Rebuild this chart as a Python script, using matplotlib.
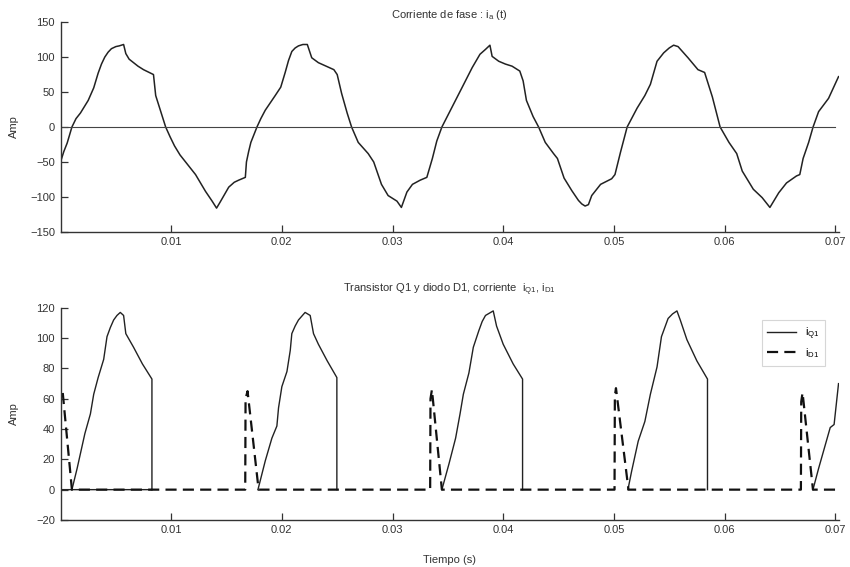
import numpy as np
import matplotlib
matplotlib.use("Agg")
import matplotlib.pyplot as plt

plt.rcParams['font.family'] = ['Liberation Sans', 'DejaVu Sans']
plt.rcParams['mathtext.fontset'] = 'custom'
plt.rcParams['mathtext.rm'] = 'Liberation Sans'
plt.rcParams['mathtext.it'] = 'Liberation Sans'

# ---- Phase current ia(t) ----
ia_t = [0.0000, 0.0003, 0.0006, 0.00103, 0.0014, 0.0018, 0.0025, 0.0030, 0.0034, 0.0037,
        0.0040, 0.0043, 0.0046, 0.0050, 0.0053, 0.0057, 0.0059, 0.0062, 0.0066, 0.0070,
        0.0075, 0.0084, 0.0086, 0.0089, 0.0091, 0.0095, 0.0099, 0.0103, 0.0108, 0.0113,
        0.0122, 0.0131, 0.0137, 0.0141, 0.0144, 0.0148, 0.0152, 0.0157, 0.0161, 0.0167,
        0.0168, 0.0170, 0.0172, 0.01775, 0.0181, 0.0185, 0.0194, 0.0199, 0.0203, 0.0206,
        0.0209, 0.0212, 0.0215, 0.0219, 0.0223, 0.0227, 0.0233, 0.0240, 0.0247, 0.0250,
        0.0254, 0.0259, 0.0263, 0.0269, 0.0278, 0.0283, 0.0290, 0.0296, 0.0304, 0.0308,
        0.0313, 0.0318, 0.0325, 0.0331, 0.0336, 0.0340, 0.03446, 0.0354, 0.0363, 0.0372,
        0.0379, 0.0384, 0.0388, 0.0390, 0.0396, 0.0402, 0.0408, 0.0415, 0.0418, 0.0421,
        0.0427, 0.0432, 0.0438, 0.04455, 0.0449, 0.0455, 0.0462, 0.0468, 0.0471, 0.0474,
        0.0477, 0.0480, 0.0488, 0.0498, 0.0501, 0.0506, 0.0512, 0.0521, 0.0528, 0.0533,
        0.0539, 0.0545, 0.0550, 0.0554, 0.0558, 0.0567, 0.0576, 0.0582, 0.0589, 0.0596,
        0.0604, 0.0611, 0.0616, 0.0626, 0.0634, 0.0641, 0.0649, 0.0656, 0.0665, 0.0668,
        0.0671, 0.0676, 0.0680, 0.0685, 0.0694, 0.0703]
ia_v = [-50, -35, -23, 0, 12, 20, 38, 56, 77, 90,
        100, 107, 112, 115, 116, 118, 105, 97, 92, 87,
        82, 75, 45, 30, 20, 0, -14, -27, -40, -50,
        -68, -92, -106, -116, -108, -97, -86, -79, -76, -72,
        -50, -35, -22, 0, 12, 24, 45, 57, 78, 95,
        108, 113, 116, 118, 118, 99, 92, 87, 82, 75,
        48, 20, 0, -22, -38, -50, -82, -98, -106, -115,
        -93, -82, -76, -72, -45, -20, 0, 29, 57, 85,
        104, 111, 117, 101, 94, 90, 87, 80, 66, 38,
        15, 0, -22, -38, -45, -73, -91, -105, -110, -113,
        -111, -98, -82, -74, -68, -36, 0, 27, 45, 61,
        94, 106, 113, 117, 115, 99, 82, 78, 43, 0,
        -22, -38, -63, -89, -101, -115, -94, -80, -70, -68,
        -45, -22, 0, 22, 41, 72]

# ---- Transistor Q1 current (cycles separated by NaN) ----
iq_t = [0.0, 0.00826, np.nan,
        0.00103, 0.0015, 0.0022, 0.0027, 0.0030, 0.0034, 0.0039, 0.0042, 0.0045, 0.0048,
        0.0051, 0.0054, 0.0057, 0.0059, 0.0066, 0.0074, 0.00826, 0.00826, np.nan,
        0.01784, 0.0185, 0.0191, 0.01955, 0.0197, 0.0200, 0.02046, 0.02076, 0.0209, 0.0212,
        0.0215, 0.0221, 0.02256, 0.02286, 0.0233, 0.0241, 0.02497, 0.02497, np.nan,
        0.03446, 0.0351, 0.0357, 0.0361, 0.0364, 0.0369, 0.0373, 0.0378, 0.0381, 0.0384,
        0.0391, 0.0394, 0.0400, 0.0409, 0.04175, 0.04175, np.nan,
        0.05127, 0.0516, 0.0522, 0.0528, 0.0533, 0.0539, 0.0543, 0.0549, 0.0553, 0.0557,
        0.0560, 0.0566, 0.0575, 0.05846, 0.05846, np.nan,
        0.06799, 0.0685, 0.0692, 0.06955, 0.0699, 0.0703]
iq_v = [0, 0, np.nan,
        0, 14, 37, 50, 63, 74, 86, 101, 107, 112,
        115, 117, 115, 103, 94, 83, 73, 0, np.nan,
        0, 19, 34, 42, 54, 68, 78, 92, 103, 108,
        112, 117, 115, 103, 96, 85, 74, 0, np.nan,
        0, 17, 34, 50, 63, 77, 94, 105, 111, 115,
        118, 108, 96, 83, 73, 0, np.nan,
        0, 12, 32, 45, 63, 81, 101, 113, 116, 118,
        112, 99, 85, 73, 0, np.nan,
        0, 14, 32, 41, 43, 70]

# ---- Diode D1 current ----
id_t = [0.0, 0.0, 0.0002, 0.00103, 0.01669, 0.01672, 0.0169, 0.0179,
        0.0334, 0.03343, 0.03356, 0.03446, 0.05006, 0.05009, 0.05019, 0.05132,
        0.0669, 0.06693, 0.06705, 0.06799, 0.0703]
id_v = [0, 66, 64, 0, 0, 60, 65, 0,
        0, 60, 66, 0, 0, 62, 67, 0,
        0, 58, 64, 0, 0]

x_ticks = [0.01, 0.02, 0.03, 0.04, 0.05, 0.06, 0.07]
x_labels = ['0.01', '0.02', '0.03', '0.04', '0.05', '0.06', '0.07']
top_yticks = [-150, -100, -50, 0, 50, 100, 150]
bot_yticks = [-20, 0, 20, 40, 60, 80, 100, 120]

fig = plt.figure(figsize=(8.5, 5.67), dpi=100)
ax1 = fig.add_axes([0.0712, 0.591, 0.9153, 0.370])
ax2 = fig.add_axes([0.0712, 0.083, 0.9153, 0.374])

ink = '#222222'
for ax in (ax1, ax2):
    for s in ('top', 'right'):
        ax.spines[s].set_visible(False)
    for s in ('left', 'bottom'):
        ax.spines[s].set_color('#333333')
        ax.spines[s].set_linewidth(1.0)
    ax.tick_params(direction='in', length=5, width=0.9, colors='#333333',
                   labelsize=8, labelcolor='#333333', pad=4)
    ax.set_xlim(0, 0.0703)
    ax.set_xticks(x_ticks)
    ax.set_xticklabels(x_labels)
    ax.set_ylabel('Amp', fontsize=8, color='#333333')
    ax.yaxis.set_label_coords(-0.053, 0.5)

ax1.plot(ia_t, ia_v, color=ink, lw=1.1)
ax1.axhline(0, color='#444444', lw=0.8, xmax=0.996)
ax1.set_ylim(-150, 150)
ax1.set_yticks(top_yticks)
ax1.set_title('Corriente de fase : i$_{\\rm a}$ (t)', fontsize=8, color='#333333', pad=3)

ax2.plot(iq_t, iq_v, color=ink, lw=1.0, label='i$_{\\rm Q1}$')
ax2.plot(id_t, id_v, color='#111111', lw=1.6, dashes=(5, 2.8), label='i$_{\\rm D1}$')
ax2.set_ylim(-20, 120)
ax2.set_yticks(bot_yticks)
ax2.set_title('Transistor Q1 y diodo D1, corriente  i$_{\\rm Q1}$, i$_{\\rm D1}$',
              fontsize=8, color='#333333', pad=11)
ax2.set_xlabel('Tiempo (s)', fontsize=8, color='#333333', labelpad=14)
leg = ax2.legend(loc='upper right', bbox_to_anchor=(0.99, 0.97), fontsize=8,
                 handlelength=2.6, frameon=True, fancybox=False, borderpad=0.5,
                 labelspacing=0.4)
leg.get_frame().set_edgecolor('#cccccc')
leg.get_frame().set_linewidth(0.8)

fig.savefig('out.png', dpi=100)
